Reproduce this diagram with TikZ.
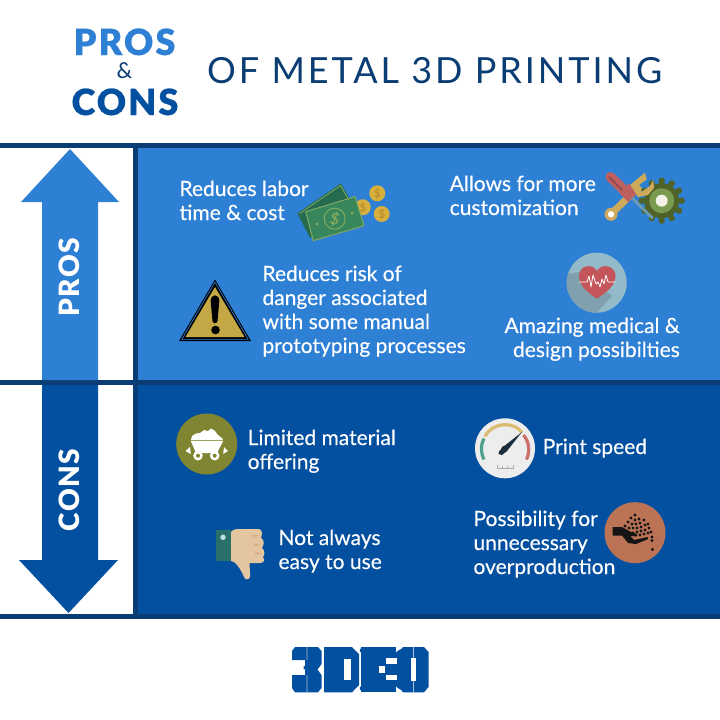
\documentclass[tikz,border=0pt]{standalone}
\usepackage{fontspec}
\setmainfont{Lato}[FakeBold=0.25]
\newfontfamily\titlefont[LetterSpace=8.2]{Lato}
\newfontfamily\headfont[LetterSpace=6,FakeBold=0.6]{Lato Black}
\newfontfamily\armfont[LetterSpace=5]{Lato Black}
\newfontfamily\ampfont{Lato}
\newfontfamily\logofont{DejaVu Serif Bold}
\definecolor{navy}{HTML}{0A3D73}
\definecolor{prosblue}{HTML}{2E80D5}
\definecolor{consblue}{HTML}{0450A0}
\definecolor{goldcoin}{RGB}{214,175,61}
\definecolor{darkcoin}{RGB}{185,145,45}
\definecolor{billback}{RGB}{36,107,80}
\definecolor{billfront}{RGB}{56,134,92}
\definecolor{billline}{RGB}{130,170,95}
\definecolor{tan}{RGB}{205,169,91}
\definecolor{steel}{RGB}{108,154,176}
\definecolor{toolred}{RGB}{190,96,95}
\definecolor{gearout}{RGB}{79,99,40}
\definecolor{gearmid}{RGB}{122,154,80}
\definecolor{cream}{RGB}{244,241,230}
\definecolor{warn}{RGB}{196,168,69}
\definecolor{olive}{RGB}{127,133,48}
\definecolor{skin}{RGB}{227,198,160}
\definecolor{hand}{RGB}{188,115,85}
\definecolor{disc}{RGB}{147,186,200}
\definecolor{discshade}{RGB}{127,160,172}
\definecolor{heart}{RGB}{196,86,91}
\definecolor{dial}{RGB}{237,237,237}
\definecolor{dialgreen}{RGB}{79,160,138}
\definecolor{dialyellow}{RGB}{217,188,111}
\definecolor{dialred}{RGB}{201,112,106}
\definecolor{needle}{RGB}{29,47,63}
\definecolor{cuff}{RGB}{41,112,106}
\definecolor{button}{RGB}{190,225,225}
\definecolor{crease}{RGB}{212,170,130}
\definecolor{ink}{RGB}{20,20,20}
\tikzset{
  bodytext/.style={text=white,font=\fontsize{21}{24}\selectfont,align=left,anchor=base west,inner sep=0pt},
  armlabel/.style={text=white,font=\armfont\fontsize{28}{28}\selectfont,rotate=90,inner sep=0pt},
  headword/.style={font=\headfont\fontsize{36}{36}\selectfont,inner sep=0pt,anchor=base},
}
\begin{document}
\begin{tikzpicture}[x=1pt,y=-1pt,line join=round]
\useasboundingbox (0,0) rectangle (720,720);
\fill[white] (0,0) rectangle (720,720);
% panels
\fill[prosblue] (136,146) rectangle (720,382);
\fill[consblue] (136,382) rectangle (720,616);
\fill[navy] (0,143) rectangle (720,148);
\fill[navy] (0,380) rectangle (720,385);
\fill[navy] (0,614) rectangle (720,619);
\fill[navy] (133,143) rectangle (138,619);
% arrows
\fill[prosblue] (70,149) -- (119,202) -- (98,202) -- (98,380) -- (42,380) -- (42,202) -- (21,202) -- cycle;
\fill[consblue] (42,385) -- (98,385) -- (98,560) -- (118,560) -- (68.5,613) -- (19,560) -- (42,560) -- cycle;
\node[armlabel] (armpros) at (69,277) {PROS};
\node[armlabel] (armcons) at (69,490) {CONS};
% title
\node[headword,text=prosblue] (tpros) at (124.5,55) {PROS};
\node[font=\ampfont\fontsize{22}{22}\selectfont,text=navy,inner sep=0pt,anchor=base] (tamp) at (124.5,78.5) {\&};
\node[headword,text=consblue] (tcons) at (125,115) {CONS};
\node[font=\titlefont\fontsize{36}{36}\selectfont,text=navy,inner sep=0pt,anchor=base west] (title) at (207,83) {OF METAL 3D PRINTING};
% texts
\node[bodytext] (t1) at (179.3,220) {Reduces labor\\time \& cost};
\node[bodytext] (t2) at (449.5,215) {Allows for more\\customization};
\node[bodytext] (t3) at (262.3,353) {Reduces risk of\\danger associated\\with some manual\\prototyping processes};
\node[bodytext,align=right,anchor=base east] (t4) at (680,357) {Amazing medical \&\\design possibilties};
\node[bodytext] (t5) at (247.5,469) {Limited material\\offering};
\node[bodytext] (t6) at (542.5,454) {Print speed};
\node[bodytext] (t7) at (278.3,569) {Not always\\easy to use};
\node[bodytext] (t8) at (473.3,574) {Possibility for\\unnecessary\\overproduction};
% money
\foreach \c in {(377.3,193.3),(381.7,214),(362.7,207.3)}{
  \fill[goldcoin] \c circle (8);
  \node[font=\fontsize{11}{11}\selectfont,text=darkcoin,inner sep=0pt] at \c {\$};
}
\fill[billback] (297.3,213.3) -- (341,183.3) -- (353,205) -- (310,238) -- cycle;
\draw[billline,line width=.8pt] (299.5,213.5) -- (340.5,185.5) -- (351,204);
\fill[billfront,draw=billline,line width=1pt] (305.7,211.7) -- (355,196.7) -- (364,225.7) -- (313.3,240.7) -- cycle;
\draw[billline,line width=1pt] (334.7,218.7) circle (10.5);
\node[font=\fontsize{16}{16}\selectfont,text=billline,rotate=-16,inner sep=0pt] (dollar) at (334.7,218.7) {\$};
\fill[billline] (317,224) circle (1.6) (352,213) circle (1.6);
% tools: gear first, tools over it
\foreach \a in {0,30,...,330}{
  \fill[gearout] (661.7,200.7) ++(\a:20) circle (3.2);
  \draw[gearout,line width=5pt] (661.7,200.7) -- ++(\a:20);
}
\fill[gearout] (661.7,200.7) circle (17.5);
\fill[gearmid] (661.7,200.7) circle (12.5);
\fill[cream] (661.7,200.7) circle (6);
\draw[tan,line width=7pt] (611,214) -- (640,186);
\fill[tan] (611,214.3) circle (6.5);
\fill[white] (611,214.3) circle (3.2);
\fill[tan] (630,185) -- (645,172.7) -- (646.7,179.3) -- (637.7,186) -- (641.7,191.7) -- (650,186) -- (653.3,180) -- (654,188) -- (648,195) -- (638,197) -- cycle;
\draw[steel,line width=2.8pt] (630,196) -- (652.7,218.3);
\draw[toolred,line width=10pt,line cap=round] (610.5,177) -- (625,191);
\fill[toolred] (619.5,193) -- (629,183.5) -- (636,194) -- (628,202) -- cycle;
\draw[toolred!75!black,line width=1.6pt,line cap=round] (609,177) -- (622,190);
% warning
\fill[black] (215,279.5) -- (251,341) -- (179,341) -- cycle;
\fill[prosblue] (215,281.5) -- (248.7,339.5) -- (181.3,339.5) -- cycle;
\fill[black] (215,283) -- (247.3,338.8) -- (182.7,338.8) -- cycle;
\fill[warn] (215,287) -- (244.5,337) -- (185.5,337) -- cycle;
\fill[black] (210.7,301) .. controls (210.7,293.5) and (219.3,293.5) .. (219.3,301) -- (217.5,321) .. controls (217,324) and (213,324) .. (212.5,321) -- cycle;
\fill[black] (215.5,330) circle (4.3);
% heart icon
\fill[disc] (596.7,282.7) circle (30);
\begin{scope}
\clip (596.7,282.7) circle (30);
\fill[discshade] (580,272) -- (612,296) -- (590,320) -- (560,300) -- (560,275) -- cycle;
\end{scope}
\fill[heart] (597,298.5) .. controls (585,291) and (579,284) .. (579,276) .. controls (579,265) and (593,263) .. (597,271) .. controls (601,263) and (615.5,265) .. (615.5,276) .. controls (615.5,284) and (609,291) .. (597,298.5) -- cycle;
\draw[white,line width=.8pt] (579,282) -- (587,282) -- (589,276) -- (591,287) -- (593,275) -- (596,284) -- (598,282) -- (600,287) -- (602,279) -- (604,284) -- (606,275) -- (608,282) -- (615.5,282);
% cart icon
\fill[olive] (206.7,444) circle (30.5);
\fill[white] (191,440) -- (192,436) -- (196,433.5) -- (200,433) -- (204,430) -- (208,431) -- (211,428.5) -- (215,431) -- (218,435) -- (222,438) -- (223,440) -- cycle;
\fill[white] (190.7,440.8) -- (223.3,440.8) -- (217,453) -- (196,453) -- cycle;
\fill[white] (185.5,451) -- (190,447) -- (190.8,454) -- cycle;
\fill[white] (228,451) -- (224,447) -- (223.2,454) -- cycle;
\foreach \x in {198,214.7}{
  \fill[white] (\x,455.7) circle (4.8);
  \fill[olive] (\x,455.7) circle (2);
}
% gauge
\fill[dial] (505,448.3) circle (30);
\begin{scope}[line width=3.2pt]
\draw[dialgreen] (484,459.5) .. controls (480.5,452) and (480.5,445) .. (484,438.5);
\draw[dialyellow] (485,436.5) .. controls (492,422) and (514,421) .. (522,432.5);
\draw[dialred] (523.5,435) .. controls (529.5,442) and (530,452) .. (526.5,459.5);
\end{scope}
\fill[needle] (522,432) -- (507,451) -- (502,455) -- (498.5,454) -- (499,451.5) -- (503,447) -- cycle;
\fill[needle] (504.5,449) circle (3.2);
\draw[black!33,line width=.8pt] (497.5,468.5) -- (513,468.5) (497.5,465) -- (497.5,468.5) (502.5,465.5) -- (502.5,468.5) (507.5,465.5) -- (507.5,468.5) (513,465) -- (513,468.5);
% thumb
\fill[cuff] (216,530) rectangle (231,561);
\fill[button] (223,537.3) circle (2.7);
\fill[skin] (231,532) .. controls (234,529) and (236,529) .. (240,529) -- (259,529) .. controls (263,530) and (262,535) .. (261,538) .. controls (265,540) and (264,545) .. (262,548) .. controls (265,550) and (265,555) .. (263,557) .. controls (265,560) and (264,563) .. (260,563) -- (249.5,563) .. controls (249.5,568) and (250.5,574) .. (250,577) .. controls (249,580) and (245,580) .. (244,577) .. controls (241,570) and (238,565) .. (234,562) -- (231,561) -- cycle;
\fill[crease] (252,534.5) -- (259,535.5) -- (253,537) -- cycle (254,543.5) -- (261,545) -- (255,546) -- cycle (255,552) -- (262,553.5) -- (256,554.5) -- cycle;
% hand icon
\fill[hand] (635,532.7) circle (30.5);
\fill[ink] (612.5,527) -- (622,527) -- (631,532) -- (637,534) -- (637,536.5) -- (630,536) -- (634,540) -- (648,537) -- (648,539) -- (636,544) -- (628,543) -- (622,535.5) -- (612.5,535.5) -- cycle;
\foreach \p in {(635,515),(631,518),(635,520),(639,519),(628,522),(632,524),(636,524),(640,523),(644,520),(625,526),(629,528),(633,528),(637,528),(641,527),(645,525),(648,524),(633,533),(637,532),(641,531),(645,530),(649,528),(640,535),(644,534),(648,533),(645,539),(651,532),(652,537),(652,540.5),(652.5,549.5)}{
  \fill[ink] \p circle (1.7);
}
% logo: the word, thickened to its block letters and cut by its counters
\node[font=\logofont,text=consblue,inner sep=0pt] (logo) at (360,669.5) {\resizebox{130pt}{42pt}{3DEO}};
\fill[consblue] (295,647) -- (318,647) -- (321.5,651) -- (321.5,664) -- (317.5,669.5) -- (321.5,675) -- (321.5,688) -- (318,692.3) -- (295,692.3) -- (292,688) -- (292,675) -- (305,675) -- (305,660) -- (292,660) -- (292,651) -- cycle;
\fill[consblue] (324,647) -- (352,647) -- (359,654) -- (359,685) -- (352,692.3) -- (324,692.3) -- cycle;
\fill[consblue] (361,647) rectangle (396,692.3);
\fill[consblue] (403,647) -- (424,647) -- (428.5,652) -- (428.5,687) -- (424,692.3) -- (403,692.3) -- (399,687) -- (399,652) -- cycle;
\fill[white] (344,659) rectangle (350.5,680);
\fill[white] (379,665.5) rectangle (384.5,672.5);
\fill[white] (386,658) rectangle (397,663.5);
\fill[white] (386,674.5) rectangle (397,680);
\fill[white] (411,658) rectangle (416,681);
\fill[white] (322.7,647) rectangle (324,692.3);
\fill[consblue!35!white] (306.5,647) rectangle (307.3,660) (306.5,675) rectangle (307.3,692.3) (413,647) rectangle (413.8,658) (413,681) rectangle (413.8,692.3);
\end{tikzpicture}
\end{document}
